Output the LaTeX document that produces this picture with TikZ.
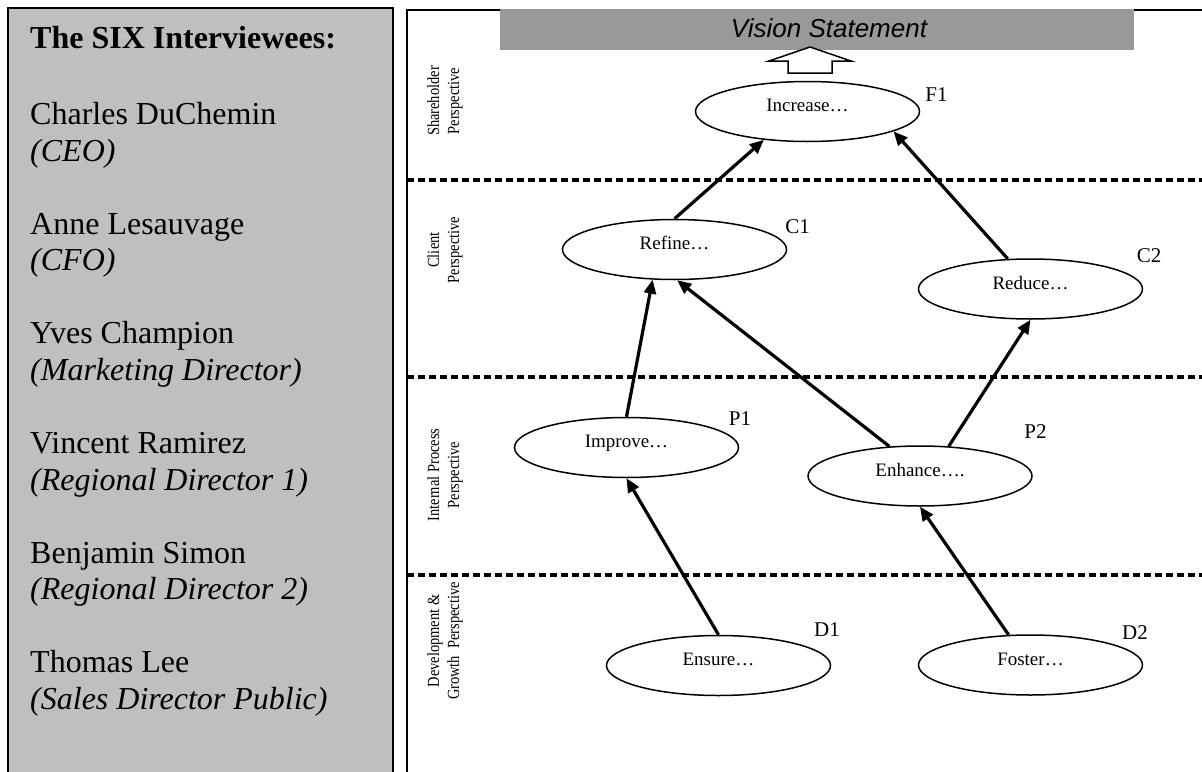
\documentclass[tikz,border=0pt]{standalone}
\usepackage{fontspec}
\setmainfont{Liberation Serif}
\setsansfont{Liberation Sans}
\newfontfamily\narrowserif[FakeStretch=0.85]{Liberation Serif}
\usetikzlibrary{shapes.geometric, arrows.meta}

\begin{document}
\begin{tikzpicture}[x=1pt, y=-1pt, >={Triangle[length=14pt, width=12pt]},
    goal/.style={ellipse, draw, line width=1.5pt, fill=white, minimum width=224pt, minimum height=60pt,
        inner sep=0pt, text height=12pt, text depth=12pt, font=\fontsize{19}{21}\selectfont},
    tag/.style={font=\fontsize{21}{24}\selectfont},
    persp/.style={rotate=90, align=center, inner sep=0pt, font=\narrowserif\fontsize{17}{20}\selectfont},
    band/.style={dash pattern=on 7pt off 4pt, line width=3.2pt},
    link/.style={->, line width=3.2pt}]
        \useasboundingbox (0,0) rectangle (1202,771);
        \clip (0,0) rectangle (1202,771);

        % Interviewees panel
        \draw[line width=2.2pt, fill=black!25] (8,8) rectangle (393,800);
        \node[anchor=north west, align=left, inner sep=0pt, font=\fontsize{32}{36.7}\selectfont] (staff) at (30,26)
            {\textbf{The SIX Interviewees:}\\[39.3pt]
            Charles DuChemin\\ \textit{(CEO)}\\[36.3pt]
            Anne Lesauvage\\ \textit{(CFO)}\\[36.3pt]
            Yves Champion\\ \textit{(Marketing Director)}\\[36.3pt]
            Vincent Ramirez\\ \textit{(Regional Director 1)}\\[36.3pt]
            Benjamin Simon\\ \textit{(Regional Director 2)}\\[36.3pt]
            Thomas Lee\\ \textit{(Sales Director Public)}};

        % Strategy map frame and bands
        \draw[line width=2.2pt] (407,10) rectangle (1230,800);
        \fill[black!40] (500,9) rectangle (1134,50);
        \node[inner sep=0pt, font=\sffamily\itshape\fontsize{26}{30}\selectfont] (vision) at (829,28) {Vision Statement};
        \draw[band] (407,180) -- (1210,180);
        \draw[band] (407,377) -- (1210,377);
        \draw[band] (407,575) -- (1210,575);

        \node[persp] (share) at (445,101) {Shareholder\\Perspective};
        \node[persp] (client) at (445,250) {Client\\Perspective};
        \node[persp] (intern) at (445,475) {Internal Process\\Perspective};
        \node[persp] (devel) at (445,641) {Development \&\\Growth\ \ Perspective};

        % Objectives
        \node[goal] (inc) at (807.5,111.5) {Increase…};
        \node[goal] (ref) at (674.5,249.5) {Refine…};
        \node[goal] (red) at (1030.5,289) {Reduce…};
        \node[goal] (imp) at (626.5,447.5) {Improve…};
        \node[goal] (enh) at (920,476) {Enhance….};
        \node[goal] (ens) at (718.5,665.5) {Ensure…};
        \node[goal] (fos) at (1030.5,665) {Foster…};

        \node[tag] (f1) at (936.5,95) {F1};
        \node[tag] (c1) at (797.5,227) {C1};
        \node[tag] (c2) at (1149,256) {C2};
        \node[tag] (p1) at (740,419) {P1};
        \node[tag] (p2) at (1035.5,432) {P2};
        \node[tag] (d1) at (827,630) {D1};
        \node[tag] (d2) at (1135,633) {D2};

        % Up to the vision
        \draw[line width=1.5pt, fill=white] (788,73) -- (788,61) -- (769,61) -- (810,47)
            -- (851,61) -- (832,61) -- (832,73) -- cycle;

        \path[link]
        % Into the shareholder goal
        (ref.90) edge (inc.213)
        (red.127) edge (inc.347)

        % Into the client goals
        (imp.90) edge (ref.234)
        (enh.136) edge (ref.275)
        (enh.46) edge (red.270)

        % Into the process goals
        (ens.90) edge (imp.270)
        (fos.126) edge (enh.270);
    \end{tikzpicture}
\end{document}
